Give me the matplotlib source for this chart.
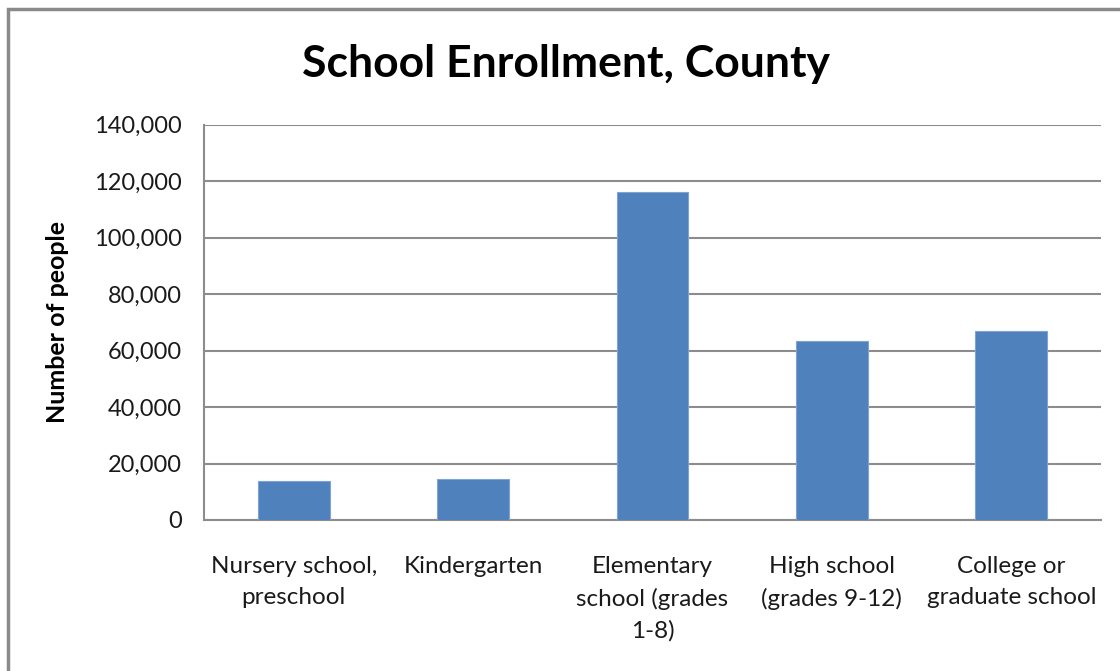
import matplotlib
matplotlib.use("Agg")
import matplotlib.pyplot as plt
from matplotlib.patches import Rectangle
from matplotlib.ticker import FuncFormatter

categories = ["Nursery school,\npreschool", "Kindergarten", "Elementary\nschool (grades\n1-8)",
              "High school\n(grades 9-12)", "College or\ngraduate school"]
values = [13900, 14400, 116300, 63300, 66900]
yticks = [0, 20000, 40000, 60000, 80000, 100000, 120000, 140000]

plt.rcParams['font.family'] = ['Lato', 'DejaVu Sans']

fig = plt.figure(figsize=(11.2, 6.71), dpi=100)
fig.patch.set_facecolor("white")
ax = fig.add_axes([204/1120, 1-520/671, (1101-204)/1120, (520-124.7)/671])

x = list(range(len(categories)))
ax.bar(x, values, width=0.4, color="#4F81BD", edgecolor="#7FA3D3", linewidth=0.8, zorder=3)

ax.set_xlim(-0.5, len(categories)-0.5)
ax.set_ylim(0, 140000)
ax.set_yticks(yticks)
ax.yaxis.set_major_formatter(FuncFormatter(lambda v, p: f"{int(v):,}"))
ax.set_xticks(x)
ax.set_xticklabels(categories, fontsize=17.5, color="#1a1a1a", linespacing=1.58)
ax.tick_params(axis='x', length=0, pad=26)
ax.tick_params(axis='y', length=0, pad=16, labelsize=17, labelcolor="#1a1a1a")
ax.grid(axis='y', color="#8c8c8c", linewidth=1.5, zorder=0)
for s in ["top", "right"]:
    ax.spines[s].set_visible(False)
for s in ["left", "bottom"]:
    ax.spines[s].set_color("#8c8c8c")
    ax.spines[s].set_linewidth(1.5)

ax.set_ylabel("Number of people", fontsize=18, fontweight="bold", labelpad=18)
fig.text(566/1120, 1-64/671, "School Enrollment, County", fontsize=32, fontweight="bold",
         ha="center", va="center")

fig.patches.append(Rectangle((7.5/1120, -0.1), 1.2, 1 - 9/671 + 0.1, transform=fig.transFigure,
                             fill=False, edgecolor="#8a8a8a", linewidth=2.5))

fig.savefig("out.png", dpi=100, facecolor="white")
